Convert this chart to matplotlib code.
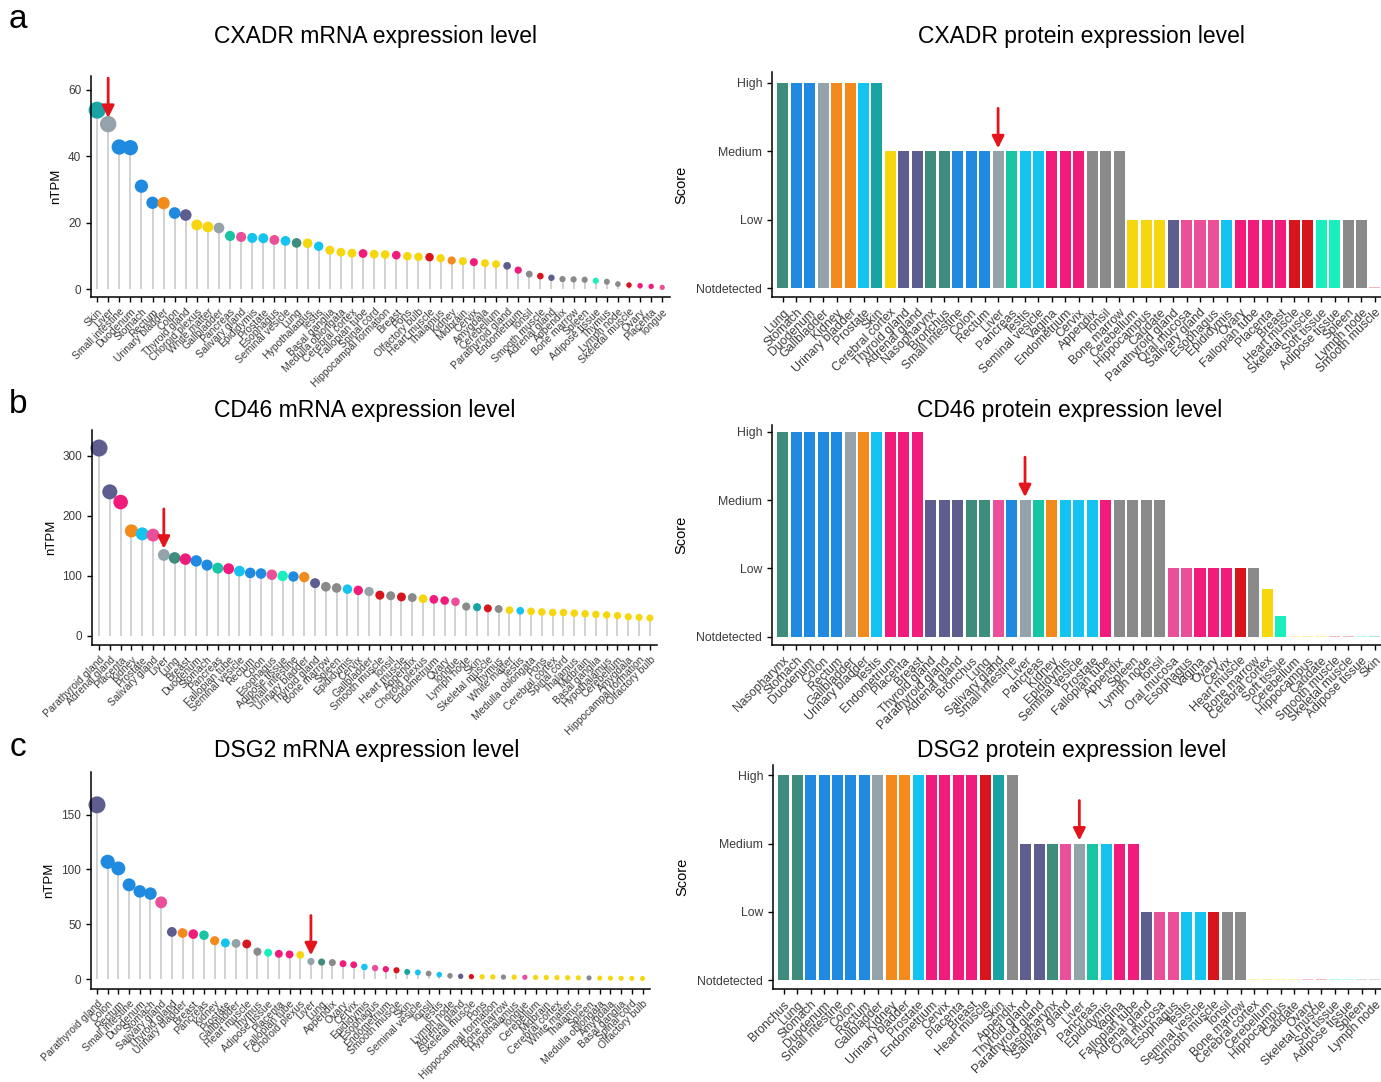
import numpy as np
import matplotlib
matplotlib.use("Agg")
import matplotlib.pyplot as plt

plt.rcParams["font.family"] = ["Liberation Sans", "DejaVu Sans"]

# ---- tissue colours (grouped like the atlas palette) ----
grp_colors = {
    "brain": "#f6d70f", "gi": "#1f8ae0", "kidney": "#f28a1c", "endocrine": "#5d5d8f",
    "liver": "#94a3aa", "skin": "#18a4a4", "pancreas": "#17c4a4", "oral": "#ea4f99",
    "male": "#14c3ef", "lung": "#3e8c7c", "female": "#f11b7c", "muscle": "#d8151c",
    "lymphoid": "#8a8a8a", "adipose": "#1aeebd",
}
groups = {
    "brain": ["Choroid plexus", "White matter", "Hypothalamus", "Basal ganglia", "Medulla oblongata",
              "Cerebral cortex", "Spinal cord", "Hippocampal formation", "Pons", "Olfactory bulb",
              "Thalamus", "Midbrain", "Amygdala", "Cerebellum", "Hippocampus", "Caudate"],
    "gi": ["Small intestine", "Duodenum", "Stomach", "Rectum", "Colon"],
    "kidney": ["Urinary bladder", "Kidney"],
    "endocrine": ["Thyroid gland", "Parathyroid gland", "Adrenal gland"],
    "liver": ["Liver", "Gallbladder"],
    "skin": ["Skin"],
    "pancreas": ["Pancreas"],
    "oral": ["Salivary gland", "Esophagus", "Tongue", "Oral mucosa"],
    "male": ["Epididymis", "Prostate", "Seminal vesicle", "Testis"],
    "lung": ["Lung", "Bronchus", "Nasopharynx"],
    "female": ["Fallopian tube", "Breast", "Cervix", "Endometrium", "Ovary", "Placenta", "Vagina"],
    "muscle": ["Heart muscle", "Skeletal muscle", "Smooth muscle"],
    "lymphoid": ["Tonsil", "Appendix", "Bone marrow", "Spleen", "Thymus", "Lymph node"],
    "adipose": ["Adipose tissue", "Soft tissue"],
}
tissue_color = {t: grp_colors[g] for g, ts in groups.items() for t in ts}

# ---- a: CXADR ----
cxadr_rna_tissues = ["Skin", "Liver", "Small intestine", "Duodenum", "Stomach", "Rectum", "Urinary bladder",
                     "Colon", "Thyroid gland", "Choroid plexus", "White matter", "Gallbladder", "Pancreas",
                     "Salivary gland", "Epididymis", "Prostate", "Esophagus", "Seminal vesicle", "Lung",
                     "Hypothalamus", "Testis", "Basal ganglia", "Medulla oblongata", "Cerebral cortex",
                     "Fallopian tube", "Spinal cord", "Hippocampal formation", "Breast", "Pons",
                     "Olfactory bulb", "Heart muscle", "Thalamus", "Kidney", "Midbrain", "Cervix", "Amygdala",
                     "Cerebellum", "Parathyroid gland", "Endometrium", "Tonsil", "Smooth muscle",
                     "Adrenal gland", "Appendix", "Bone marrow", "Spleen", "Adipose tissue", "Thymus",
                     "Lymph node", "Skeletal muscle", "Ovary", "Placenta", "Tongue"]
cxadr_rna_ntpm = [53.9, 49.7, 42.8, 42.6, 31.0, 26.0, 25.9, 22.9, 22.3, 19.3, 18.7, 18.4, 16.0, 15.7, 15.4,
                  15.3, 14.8, 14.5, 13.9, 13.8, 12.9, 11.7, 11.1, 10.8, 10.7, 10.5, 10.4, 10.2, 9.9, 9.7,
                  9.6, 9.3, 8.6, 8.4, 8.1, 7.8, 7.5, 7.0, 5.7, 4.5, 3.9, 3.4, 3.0, 2.9, 2.8, 2.5, 2.2,
                  1.5, 1.2, 1.0, 0.8, 0.5]

cxadr_prot_tissues = ["Lung", "Stomach", "Duodenum", "Gallbladder", "Kidney", "Urinary bladder", "Prostate",
                      "Skin", "Cerebral cortex", "Thyroid gland", "Adrenal gland", "Nasopharynx", "Bronchus",
                      "Small intestine", "Colon", "Rectum", "Liver", "Pancreas", "Testis", "Seminal vesicle",
                      "Vagina", "Endometrium", "Cervix", "Appendix", "Tonsil", "Bone marrow", "Cerebellum",
                      "Hippocampus", "Caudate", "Parathyroid gland", "Oral mucosa", "Salivary gland",
                      "Esophagus", "Epididymis", "Ovary", "Fallopian tube", "Placenta", "Breast",
                      "Heart muscle", "Skeletal muscle", "Soft tissue", "Adipose tissue", "Spleen",
                      "Lymph node", "Smooth muscle"]
cxadr_prot_score = [3] * 8 + [2] * 18 + [1] * 18 + [0]

# ---- b: CD46 ----
cd46_rna_tissues = ["Parathyroid gland", "Adrenal gland", "Placenta", "Kidney", "Prostate", "Salivary gland",
                    "Liver", "Lung", "Breast", "Duodenum", "Stomach", "Pancreas", "Fallopian tube",
                    "Seminal vesicle", "Rectum", "Colon", "Esophagus", "Adipose tissue", "Small intestine",
                    "Urinary bladder", "Thyroid gland", "Bone marrow", "Spleen", "Epididymis", "Cervix",
                    "Gallbladder", "Smooth muscle", "Tonsil", "Heart muscle", "Appendix", "Choroid plexus",
                    "Endometrium", "Ovary", "Tongue", "Lymph node", "Skin", "Skeletal muscle", "Thymus",
                    "White matter", "Testis", "Medulla oblongata", "Pons", "Cerebral cortex", "Spinal cord",
                    "Thalamus", "Midbrain", "Basal ganglia", "Hypothalamus", "Cerebellum", "Amygdala",
                    "Hippocampal formation", "Olfactory bulb"]
cd46_rna_ntpm = [313, 240, 223, 175, 170, 168, 135, 130, 128, 125, 118, 113, 112, 108, 105, 104, 102, 100,
                 99, 98, 88, 82, 80, 78, 76, 74, 68, 67, 65, 64, 62, 61, 59, 57, 49, 48, 46, 45, 43, 42,
                 41, 40, 39, 39, 38, 37, 36, 35, 34, 32, 31, 30]

cd46_prot_tissues = ["Nasopharynx", "Stomach", "Duodenum", "Colon", "Rectum", "Gallbladder", "Urinary bladder",
                     "Testis", "Endometrium", "Placenta", "Breast", "Thyroid gland", "Parathyroid gland",
                     "Adrenal gland", "Bronchus", "Lung", "Salivary gland", "Small intestine", "Liver",
                     "Pancreas", "Kidney", "Epididymis", "Seminal vesicle", "Prostate", "Fallopian tube",
                     "Appendix", "Spleen", "Lymph node", "Tonsil", "Oral mucosa", "Esophagus", "Vagina",
                     "Ovary", "Cervix", "Heart muscle", "Bone marrow", "Cerebral cortex", "Soft tissue",
                     "Cerebellum", "Hippocampus", "Caudate", "Smooth muscle", "Skeletal muscle",
                     "Adipose tissue", "Skin"]
cd46_prot_score = [3] * 11 + [2] * 18 + [1] * 7 + [0.7, 0.3] + [0] * 7

# ---- c: DSG2 ----
dsg2_rna_tissues = ["Parathyroid gland", "Colon", "Rectum", "Small intestine", "Duodenum", "Stomach",
                    "Salivary gland", "Thyroid gland", "Urinary bladder", "Breast", "Pancreas", "Kidney",
                    "Prostate", "Gallbladder", "Heart muscle", "Thymus", "Adipose tissue", "Placenta",
                    "Fallopian tube", "Choroid plexus", "Liver", "Lung", "Appendix", "Ovary", "Cervix",
                    "Epididymis", "Esophagus", "Endometrium", "Smooth muscle", "Skin", "Seminal vesicle",
                    "Tonsil", "Testis", "Lymph node", "Adrenal gland", "Skeletal muscle", "Pons",
                    "Hippocampal formation", "Bone marrow", "Hypothalamus", "Tongue", "Cerebellum",
                    "Midbrain", "Cerebral cortex", "White matter", "Thalamus", "Spleen", "Medulla oblongata",
                    "Amygdala", "Basal ganglia", "Spinal cord", "Olfactory bulb"]
dsg2_rna_ntpm = [159, 107, 101, 86, 80, 78, 70, 43, 42, 41, 40, 35, 33, 32.5, 32, 25, 24, 23, 22.5, 22,
                 16, 15.5, 15, 14, 13, 11, 10, 9, 8, 6.5, 6, 5, 4, 3, 2.5, 2.2, 2.0, 1.9, 1.8, 1.7, 1.6,
                 1.5, 1.4, 1.3, 1.2, 1.1, 1.0, 0.9, 0.8, 0.7, 0.6, 0.5]

dsg2_prot_tissues = ["Bronchus", "Lung", "Stomach", "Duodenum", "Small intestine", "Colon", "Rectum",
                     "Gallbladder", "Kidney", "Urinary bladder", "Prostate", "Endometrium", "Cervix",
                     "Placenta", "Breast", "Heart muscle", "Skin", "Appendix", "Thyroid gland",
                     "Parathyroid gland", "Nasopharynx", "Salivary gland", "Liver", "Pancreas", "Epididymis",
                     "Vagina", "Fallopian tube", "Adrenal gland", "Oral mucosa", "Esophagus", "Testis",
                     "Seminal vesicle", "Smooth muscle", "Tonsil", "Bone marrow", "Cerebral cortex",
                     "Cerebellum", "Hippocampus", "Caudate", "Ovary", "Skeletal muscle", "Soft tissue",
                     "Adipose tissue", "Spleen", "Lymph node"]
dsg2_prot_score = [3] * 18 + [2] * 9 + [1] * 8 + [0] * 10

score_labels = ["Notdetected", "Low", "Medium", "High"]
arrow_red = "#e3141b"
tick_grey = "#3a3a3a"

W, H = 1381, 1082
fig = plt.figure(figsize=(W / 100, H / 100), dpi=100)


def px_axes(x0, x1, y0, y1):
    return fig.add_axes([x0 / W, 1 - y1 / H, (x1 - x0) / W, (y1 - y0) / H])


def style(ax):
    for s in ["top", "right"]:
        ax.spines[s].set_visible(False)
    for s in ["left", "bottom"]:
        ax.spines[s].set_linewidth(1.1)
    ax.tick_params(length=3.5, width=1.0, color="black", labelcolor=tick_grey)


def lollipop(ax, tissues, vals, yticks, ylim, xlim, label_x):
    x = np.arange(len(tissues))
    v = np.array(vals, dtype=float)
    ax.vlines(x, 0, v, color="#cfcfcf", lw=1.3, zorder=1)
    diam = np.sqrt(5 ** 2 + (17 ** 2 - 5 ** 2) * v / v.max())
    ax.scatter(x, v, s=(diam * 0.72) ** 2, c=[tissue_color[t] for t in tissues],
               edgecolors="none", zorder=2, clip_on=False)
    ax.set_xlim(*xlim)
    ax.set_ylim(*ylim)
    ax.set_yticks(yticks)
    ax.set_xticks(x)
    ax.set_xticklabels(tissues, rotation=45, ha="right", rotation_mode="anchor", fontsize=7.5)
    ax.tick_params(axis="y", labelsize=8.5)
    ax.set_ylabel("nTPM", fontsize=9.5)
    ax.yaxis.set_label_coords(label_x, 0.5)
    style(ax)
    i = tissues.index("Liver")
    ax.annotate("", xy=(i, v[i]), xytext=(0, 46), textcoords="offset pixels",
                arrowprops=dict(arrowstyle="-|>,head_length=0.6,head_width=0.3", color=arrow_red,
                                lw=2, shrinkA=0, shrinkB=4.5, mutation_scale=12),
                annotation_clip=False)


def protein(ax, tissues, scores, ylim):
    x = np.arange(len(tissues))
    sc = np.array(scores, dtype=float)
    cols = [tissue_color[t] for t in tissues]
    det = sc > 0
    ax.bar(x[det], sc[det], width=0.82, color=np.array(cols)[det], zorder=2)
    # not detected tissues leave only a faint trace on the baseline
    ax.bar(x[~det], np.full((~det).sum(), 0.015), width=0.82,
           color=np.array(cols)[~det], alpha=0.3, zorder=2)
    ax.set_xlim(-0.8, 44.45)
    ax.set_ylim(*ylim)
    ax.set_yticks(range(4))
    ax.set_yticklabels(score_labels, fontsize=8.8)
    ax.set_xticks(x)
    ax.set_xticklabels(tissues, rotation=45, ha="right", rotation_mode="anchor", fontsize=8.8)
    ax.set_ylabel("Score", fontsize=10.5)
    ax.yaxis.set_label_coords(-0.138, 0.5)
    style(ax)
    i = tissues.index("Liver")
    ax.annotate("", xy=(i, sc[i]), xytext=(0, 43), textcoords="offset pixels",
                arrowprops=dict(arrowstyle="-|>,head_length=0.6,head_width=0.3", color=arrow_red,
                                lw=2, shrinkA=0, shrinkB=2.2, mutation_scale=12),
                annotation_clip=False)


ax = px_axes(91, 670, 76, 297)
lollipop(ax, cxadr_rna_tissues, cxadr_rna_ntpm, [0, 20, 40, 60], (-2.4, 64.2), (-0.55, 51.7), -0.05)
ax = px_axes(772, 1381, 72, 297)
protein(ax, cxadr_prot_tissues, cxadr_prot_score, (-0.13, 3.16))

ax = px_axes(92, 657, 430, 645)
lollipop(ax, cd46_rna_tissues, cd46_rna_ntpm, [0, 100, 200, 300], (-15, 343), (-0.65, 51.66), -0.062)
ax = px_axes(772, 1381, 425, 645)
protein(ax, cd46_prot_tissues, cd46_prot_score, (-0.12, 3.10))

ax = px_axes(91, 650, 772, 989)
lollipop(ax, dsg2_rna_tissues, dsg2_rna_ntpm, [0, 50, 100, 150], (-9.1, 189), (-0.56, 51.7), -0.064)
ax = px_axes(773, 1381, 765, 989)
protein(ax, dsg2_prot_tissues, dsg2_prot_score, (-0.13, 3.15))

titles = [("CXADR mRNA expression level", 376, 36), ("CXADR protein expression level", 1081, 36),
          ("CD46 mRNA expression level", 365, 410), ("CD46 protein expression level", 1070, 410),
          ("DSG2 mRNA expression level", 367, 750), ("DSG2 protein expression level", 1072, 750)]
for t, x, y in titles:
    fig.text(x / W, 1 - y / H, t, fontsize=16.5, ha="center", va="center")

for letter, y in [("a", 20), ("b", 404), ("c", 748)]:
    fig.text(18 / W, 1 - y / H, letter, fontsize=24, ha="center", va="center")

fig.savefig("out.png", dpi=100)
